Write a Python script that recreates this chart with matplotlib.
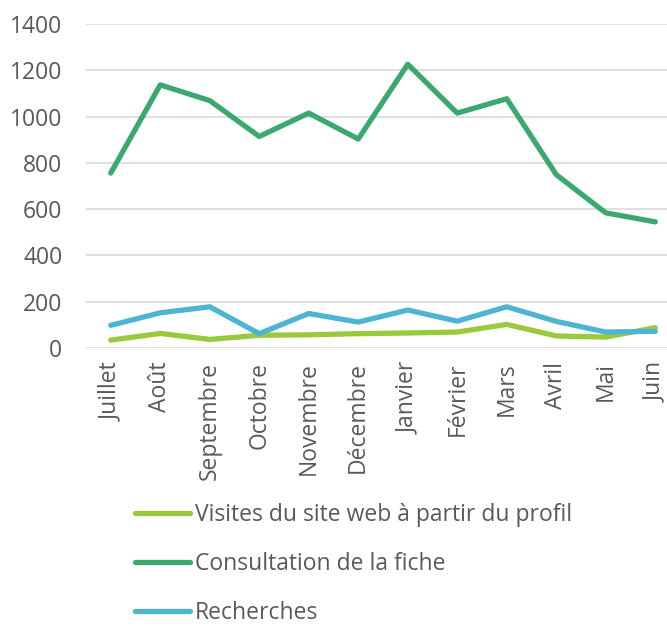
import matplotlib.pyplot as plt

plt.rcParams['font.family'] = ['Open Sans', 'DejaVu Sans']

mois = ['Juillet', 'Août', 'Septembre', 'Octobre', 'Novembre', 'Décembre',
        'Janvier', 'Février', 'Mars', 'Avril', 'Mai', 'Juin']
visites = [34, 63, 37, 55, 57, 62, 65, 69, 102, 52, 47, 88]
consultation = [756, 1137, 1069, 914, 1015, 903, 1226, 1015, 1077, 749, 584, 545]
recherches = [98, 152, 178, 62, 149, 112, 164, 116, 178, 115, 69, 72]

gris = '#595959'

fig = plt.figure(figsize=(6.67, 6.27), dpi=100)
ax = fig.add_axes([86 / 667, 279 / 627, 594 / 667, 324 / 627])

x = range(len(mois))
ax.plot(x, visites, color='#9ACA3C', lw=3.8, solid_capstyle='round',
        label='Visites du site web à partir du profil')
ax.plot(x, consultation, color='#3BA96E', lw=3.8, solid_capstyle='round',
        label='Consultation de la fiche')
ax.plot(x, recherches, color='#4DB4D2', lw=3.8, solid_capstyle='round',
        label='Recherches')

ax.set_ylim(0, 1400)
ax.set_xlim(-0.5, len(mois) - 0.5)
ax.set_yticks(range(0, 1401, 200))
ax.set_xticks(list(x))
ax.set_xticklabels(mois, rotation=90)
ax.grid(axis='y', color='#D9D9D9', lw=1.2)
ax.set_axisbelow(True)
for s in ax.spines.values():
    s.set_visible(False)
ax.tick_params(length=0, labelsize=16.5, labelcolor=gris)
ax.tick_params(axis='x', pad=10)
ax.tick_params(axis='y', pad=17)

leg = fig.legend(loc='lower center', bbox_to_anchor=(0.53, -0.017), frameon=False,
                 fontsize=16.5, handlelength=2.4, labelspacing=1.1,
                 handletextpad=0.2, borderpad=0.05)
for t in leg.get_texts():
    t.set_color(gris)

fig.savefig('out.png', dpi=100)
